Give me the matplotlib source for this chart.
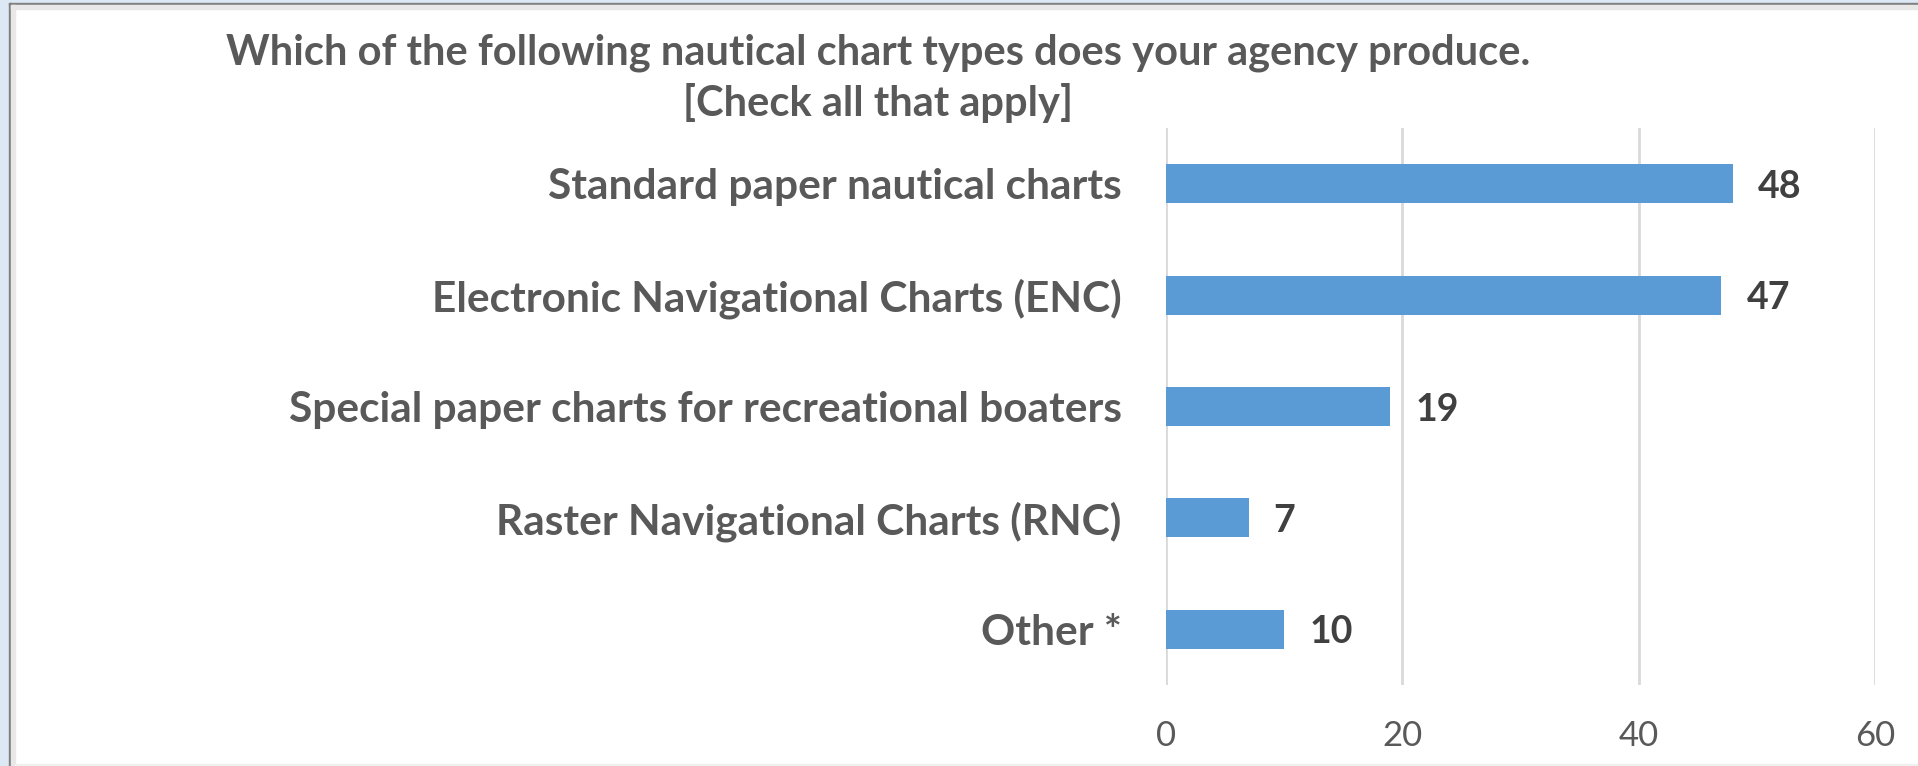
import matplotlib.pyplot as plt
from matplotlib.patches import Rectangle

categories = ['Standard paper nautical charts',
              'Electronic Navigational Charts (ENC)',
              'Special paper charts for recreational boaters',
              'Raster Navigational Charts (RNC)',
              'Other *']
counts = [48, 47, 19, 7, 10]
xticks = [0, 20, 40, 60]
title = 'Which of the following nautical chart types does your agency produce.\n[Check all that apply]'

plt.rcParams['font.family'] = ['Lato', 'DejaVu Sans']

fig = plt.figure(figsize=(19.18, 7.66), dpi=100)
ax = fig.add_axes([0.6079, 0.1057, 0.3697, 0.7272])

ypos = list(range(len(categories)))
ax.barh(ypos, counts, height=0.35, color='#5B9BD5', zorder=3)
ax.set_ylim(len(categories) - 0.5, -0.5)
ax.set_xlim(0, 60)
ax.set_xticks(xticks)
ax.set_yticks(ypos)
ax.set_yticklabels(categories, fontsize=30.5, fontweight='bold', color='#595959',
                   va='center_baseline')
ax.tick_params(axis='y', length=0, pad=32)
ax.tick_params(axis='x', length=0, pad=25, labelsize=25, labelcolor='#595959')
ax.grid(axis='x', color='#d9d9d9', linewidth=2, zorder=0)
for s in ax.spines.values():
    s.set_visible(False)

for y, v in zip(ypos, counts):
    ax.annotate(str(v), (v, y), xytext=(18, 0), textcoords='offset points',
                va='center_baseline', ha='left', fontsize=27, fontweight='bold',
                color='#404040')

fig.text(0.4578, 0.898, title, ha='center', va='center', fontsize=30,
         fontweight='bold', color='#595959', linespacing=1.35)

# window frame
fig.patches.append(Rectangle((0, 0), 9 / 1918, 1, transform=fig.transFigure,
                             color='#dce9f5', zorder=0))
fig.patches.append(Rectangle((0, 1 - 3 / 766), 1, 3 / 766, transform=fig.transFigure,
                             color='#dce9f5', zorder=0))
fig.patches.append(Rectangle((9 / 1918, 0), 2 / 1918, 1 - 3 / 766, transform=fig.transFigure,
                             color='#808080', zorder=0))
fig.patches.append(Rectangle((9 / 1918, 1 - 5 / 766), 1, 2 / 766, transform=fig.transFigure,
                             color='#808080', zorder=0))
fig.patches.append(Rectangle((11 / 1918, 0), 4 / 1918, 1 - 5 / 766, transform=fig.transFigure,
                             color='#e8e8e8', zorder=0))
fig.patches.append(Rectangle((11 / 1918, 1 - 9 / 766), 1, 4 / 766, transform=fig.transFigure,
                             color='#e8e8e8', zorder=0))
fig.patches.append(Rectangle((15 / 1918, 0), 1, 2 / 766, transform=fig.transFigure,
                             color='#f0f0f0', zorder=0))

fig.savefig('out.png', dpi=100)
